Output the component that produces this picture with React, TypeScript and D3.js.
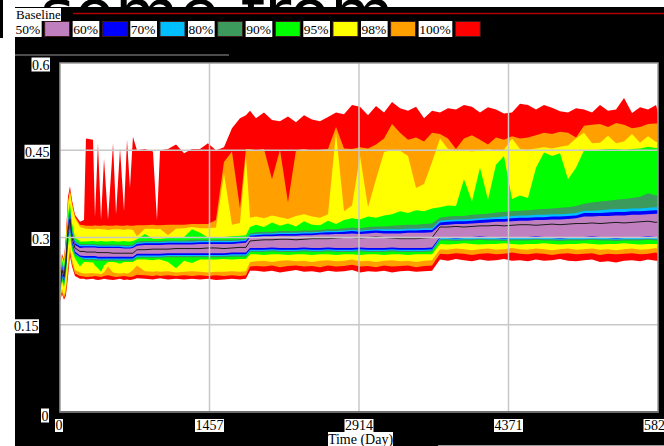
import React from 'react';
import * as d3 from 'd3';

// ---- data (time in days, values are fractions) ----
const days = [0,19,39,58,78,97,117,146,195,
234,253,322,341,370,400,429,468,517,546,585,624,653,682,711,750,828,906,945,975,1053,1131,1209,1286,1364,1442,1520,1598,1676,1754,1812,1852,
1910,1988,2066,2144,2222,2300,2378,2456,2534,2612,2690,2768,2846,2924,3002,3080,3158,3236,3314,3392,3470,3548,3626,
3703,3781,3859,3937,4015,4093,4171,4249,4327,4405,4483,4561,4639,4717,4795,4873,4951,5029,5107,5185,5263,5341,5419,5497,5575,5653,5731,5809,5828];

const baseline = [0.213,0.244,0.232,0.258,0.312,0.332,0.300,0.282,0.276,
0.276,0.275,0.275,0.275,0.274,0.274,0.274,0.274,0.273,0.273,0.273,0.273,0.273,0.273,0.273,0.279,0.279,0.280,0.280,0.280,0.280,0.281,0.281,0.281,0.281,0.282,0.282,0.281,0.282,0.283,0.283,0.294,
0.295,0.296,0.296,0.297,0.297,0.296,0.297,0.298,0.298,0.298,0.299,0.300,0.300,0.299,0.300,0.301,0.300,0.299,0.298,0.298,0.298,0.299,0.300,
0.318,0.318,0.319,0.318,0.319,0.320,0.320,0.321,0.320,0.321,0.322,0.322,0.321,0.322,0.323,0.322,0.323,0.324,0.324,0.325,0.324,0.325,0.326,0.325,0.326,0.327,0.328,0.326,0.327];

const p50Hi = [0.216,0.248,0.236,0.263,0.318,0.338,0.305,0.287,0.282,
0.283,0.283,0.283,0.283,0.282,0.282,0.282,0.282,0.282,0.282,0.282,0.281,0.281,0.281,0.282,0.286,0.287,0.287,0.287,0.287,0.288,0.288,0.288,0.288,0.289,0.289,0.289,0.289,0.289,0.290,0.291,0.300,
0.301,0.302,0.302,0.303,0.303,0.303,0.304,0.304,0.305,0.305,0.306,0.306,0.307,0.306,0.307,0.308,0.307,0.307,0.307,0.308,0.308,0.308,0.309,
0.321,0.322,0.323,0.323,0.324,0.325,0.326,0.327,0.327,0.328,0.329,0.329,0.330,0.330,0.331,0.331,0.332,0.333,0.336,0.336,0.337,0.337,0.338,0.338,0.339,0.339,0.340,0.341,0.341];

const p60Hi = [0.218,0.251,0.239,0.266,0.322,0.342,0.308,0.290,0.285,
0.285,0.285,0.285,0.285,0.284,0.284,0.284,0.284,0.284,0.284,0.284,0.283,0.283,0.283,0.284,0.289,0.290,0.290,0.290,0.290,0.291,0.291,0.291,0.291,0.292,0.292,0.292,0.292,0.292,0.293,0.294,0.303,
0.304,0.305,0.305,0.306,0.306,0.306,0.307,0.307,0.308,0.309,0.309,0.310,0.311,0.310,0.311,0.312,0.311,0.311,0.311,0.312,0.312,0.313,0.313,
0.326,0.327,0.328,0.328,0.329,0.330,0.331,0.332,0.332,0.333,0.334,0.334,0.335,0.335,0.336,0.336,0.337,0.338,0.342,0.342,0.342,0.343,0.344,0.344,0.345,0.345,0.346,0.347,0.347];

const p70Hi = [0.220,0.253,0.241,0.269,0.326,0.346,0.311,0.292,0.287,
0.287,0.287,0.287,0.287,0.286,0.286,0.286,0.286,0.286,0.286,0.286,0.285,0.285,0.285,0.286,0.291,0.292,0.292,0.292,0.292,0.293,0.293,0.293,0.293,0.294,0.294,0.294,0.294,0.294,0.295,0.296,0.305,
0.306,0.307,0.307,0.308,0.308,0.308,0.309,0.309,0.310,0.311,0.311,0.312,0.313,0.312,0.313,0.314,0.314,0.314,0.314,0.315,0.315,0.316,0.316,
0.329,0.330,0.331,0.331,0.332,0.333,0.334,0.335,0.336,0.337,0.338,0.338,0.339,0.339,0.340,0.340,0.341,0.342,0.346,0.346,0.347,0.348,0.349,0.349,0.350,0.350,0.351,0.352,0.352];

const p80Hi = [0.222,0.256,0.244,0.272,0.330,0.350,0.314,0.294,0.289,
0.289,0.289,0.289,0.289,0.288,0.288,0.288,0.288,0.288,0.288,0.288,0.287,0.287,0.287,0.288,0.293,0.294,0.294,0.294,0.294,0.295,0.295,0.295,0.296,0.296,0.296,0.296,0.296,0.296,0.297,0.298,0.307,
0.309,0.310,0.310,0.311,0.311,0.311,0.312,0.312,0.313,0.314,0.314,0.316,0.317,0.316,0.318,0.319,0.319,0.320,0.321,0.322,0.322,0.323,0.324,
0.334,0.336,0.337,0.337,0.339,0.340,0.341,0.343,0.344,0.345,0.346,0.347,0.348,0.349,0.350,0.351,0.352,0.354,0.358,0.360,0.362,0.363,0.365,0.366,0.368,0.370,0.376,0.372,0.373];

const p90Hi = [0.226,0.262,0.250,0.282,0.340,0.360,0.325,0.300,0.293,
0.293,0.293,0.294,0.293,0.293,0.294,0.293,0.293,0.294,0.293,0.293,0.294,0.293,0.293,0.294,0.297,0.306,0.298,0.298,0.298,0.299,0.299,0.301,0.314,0.308,0.300,0.301,0.301,0.302,0.303,0.304,0.318,
0.322,0.318,0.326,0.320,0.324,0.319,0.328,0.322,0.321,0.329,0.323,0.330,0.333,0.331,0.336,0.334,0.338,0.340,0.345,0.342,0.347,0.345,0.350,
0.352,0.355,0.354,0.400,0.362,0.420,0.365,0.425,0.440,0.366,0.372,0.368,0.420,0.446,0.440,0.445,0.400,0.420,0.450,0.450,0.451,0.452,0.452,0.451,0.452,0.453,0.456,0.454,0.454];

const p95Hi = [0.230,0.266,0.256,0.292,0.355,0.378,0.355,0.333,0.318,
0.316,0.315,0.314,0.314,0.315,0.314,0.314,0.313,0.314,0.314,0.314,0.313,0.314,0.314,0.313,0.302,0.315,0.315,0.314,0.315,0.304,0.315,0.316,0.318,0.316,0.316,0.317,0.410,0.322,0.325,0.440,0.334,
0.336,0.333,0.338,0.335,0.332,0.337,0.340,0.336,0.334,0.340,0.480,0.345,0.355,0.440,0.352,0.400,0.447,0.450,0.449,0.440,0.385,0.392,0.430,
0.470,0.452,0.450,0.450,0.448,0.450,0.452,0.449,0.451,0.470,0.452,0.451,0.453,0.455,0.453,0.456,0.458,0.470,0.480,0.462,0.463,0.475,0.462,0.465,0.478,0.463,0.474,0.464,0.464];

const p98Hi = [0.234,0.269,0.259,0.298,0.362,0.382,0.360,0.336,0.322,
0.321,0.320,0.320,0.321,0.320,0.320,0.321,0.320,0.320,0.321,0.320,0.320,0.321,0.320,0.320,0.321,0.321,0.322,0.321,0.321,0.322,0.322,0.322,0.323,0.323,0.323,0.330,0.430,0.448,0.350,0.452,0.452,
0.450,0.452,0.400,0.451,0.360,0.450,0.452,0.449,0.451,0.452,0.490,0.453,0.452,0.455,0.453,0.460,0.470,0.495,0.480,0.468,0.472,0.465,0.480,
0.478,0.470,0.452,0.470,0.476,0.468,0.460,0.472,0.468,0.474,0.470,0.472,0.476,0.480,0.478,0.482,0.480,0.472,0.492,0.494,0.495,0.490,0.497,0.494,0.488,0.490,0.495,0.496,0.496];

const p100Hi = [0.240,0.272,0.262,0.305,0.370,0.388,0.364,0.339,0.327,
0.330,0.470,0.468,0.335,0.462,0.330,0.436,0.330,0.462,0.340,0.453,0.345,0.468,0.385,0.473,0.450,0.452,0.448,0.330,0.450,0.452,0.460,0.445,0.452,0.452,0.462,0.450,0.455,0.488,0.505,0.510,0.518,
0.505,0.515,0.502,0.500,0.508,0.498,0.510,0.503,0.500,0.507,0.515,0.512,0.528,0.525,0.510,0.526,0.515,0.533,0.522,0.518,0.525,0.505,0.518,
0.515,0.522,0.520,0.528,0.525,0.515,0.524,0.520,0.513,0.515,0.530,0.528,0.520,0.528,0.523,0.517,0.515,0.522,0.520,0.515,0.528,0.518,0.520,0.540,0.514,0.524,0.520,0.528,0.515];

const p50Lo = [0.210,0.238,0.228,0.252,0.305,0.325,0.294,0.276,0.269,
0.268,0.268,0.268,0.268,0.267,0.267,0.267,0.267,0.267,0.267,0.267,0.267,0.267,0.267,0.267,0.272,0.272,0.272,0.272,0.272,0.273,0.273,0.273,0.273,0.273,0.273,0.273,0.273,0.274,0.274,0.274,0.282,
0.282,0.282,0.283,0.282,0.282,0.282,0.283,0.282,0.282,0.283,0.282,0.282,0.282,0.283,0.282,0.282,0.282,0.283,0.282,0.282,0.282,0.282,0.283,
0.301,0.301,0.300,0.301,0.301,0.302,0.301,0.301,0.300,0.301,0.301,0.301,0.302,0.301,0.301,0.300,0.301,0.301,0.301,0.302,0.301,0.301,0.300,0.301,0.301,0.301,0.302,0.301,0.301];

const p60Lo = [0.208,0.235,0.225,0.248,0.300,0.320,0.290,0.273,0.267,
0.265,0.265,0.265,0.265,0.264,0.264,0.264,0.264,0.264,0.264,0.264,0.264,0.264,0.264,0.264,0.269,0.269,0.269,0.269,0.269,0.270,0.270,0.270,0.270,0.270,0.270,0.270,0.270,0.271,0.271,0.271,0.279,
0.279,0.279,0.280,0.279,0.279,0.279,0.280,0.279,0.279,0.280,0.279,0.279,0.279,0.280,0.279,0.279,0.279,0.280,0.279,0.279,0.279,0.279,0.280,
0.299,0.299,0.298,0.299,0.299,0.300,0.299,0.299,0.298,0.299,0.299,0.299,0.300,0.299,0.299,0.298,0.299,0.299,0.299,0.300,0.299,0.299,0.298,0.299,0.299,0.299,0.300,0.299,0.299];

const p70Lo = [0.206,0.233,0.222,0.245,0.297,0.317,0.288,0.271,0.266,
0.263,0.263,0.263,0.263,0.262,0.262,0.262,0.262,0.262,0.262,0.262,0.262,0.262,0.262,0.262,0.267,0.267,0.267,0.267,0.267,0.268,0.268,0.268,0.268,0.268,0.268,0.268,0.268,0.269,0.269,0.269,0.277,
0.277,0.277,0.278,0.277,0.277,0.277,0.278,0.277,0.277,0.278,0.277,0.277,0.277,0.278,0.277,0.277,0.277,0.278,0.277,0.277,0.277,0.277,0.278,
0.297,0.297,0.296,0.297,0.297,0.298,0.297,0.297,0.296,0.297,0.297,0.297,0.298,0.297,0.297,0.296,0.297,0.297,0.297,0.298,0.297,0.297,0.296,0.297,0.297,0.297,0.298,0.297,0.297];

const p80Lo = [0.204,0.230,0.219,0.241,0.293,0.313,0.285,0.269,0.265,
0.261,0.261,0.261,0.261,0.260,0.260,0.260,0.260,0.260,0.260,0.260,0.260,0.260,0.260,0.260,0.265,0.265,0.265,0.265,0.265,0.266,0.266,0.266,0.266,0.266,0.266,0.266,0.266,0.267,0.267,0.267,0.275,
0.275,0.275,0.276,0.275,0.275,0.275,0.276,0.275,0.275,0.276,0.275,0.275,0.275,0.276,0.275,0.275,0.275,0.276,0.275,0.275,0.275,0.275,0.276,
0.295,0.295,0.294,0.295,0.295,0.296,0.295,0.295,0.294,0.295,0.295,0.295,0.296,0.295,0.295,0.294,0.295,0.295,0.295,0.296,0.295,0.295,0.294,0.295,0.295,0.295,0.296,0.295,0.295];

const p90Lo = [0.201,0.226,0.214,0.235,0.285,0.305,0.278,0.264,0.250,
0.258,0.258,0.257,0.252,0.247,0.241,0.252,0.258,0.258,0.257,0.255,0.258,0.258,0.258,0.258,0.262,0.262,0.261,0.262,0.262,0.258,0.247,0.260,0.256,0.262,0.262,0.262,0.263,0.262,0.263,0.263,0.271,
0.271,0.270,0.271,0.271,0.270,0.271,0.271,0.270,0.271,0.271,0.270,0.271,0.271,0.270,0.271,0.271,0.270,0.271,0.271,0.270,0.271,0.271,0.271,
0.289,0.288,0.289,0.290,0.289,0.288,0.289,0.289,0.290,0.289,0.288,0.289,0.289,0.290,0.289,0.288,0.289,0.289,0.290,0.289,0.288,0.289,0.289,0.290,0.289,0.288,0.289,0.289,0.289];

const p95Lo = [0.196,0.212,0.200,0.215,0.255,0.285,0.262,0.244,0.240,
0.238,0.238,0.239,0.238,0.238,0.237,0.240,0.250,0.240,0.239,0.238,0.239,0.238,0.240,0.244,0.252,0.242,0.241,0.242,0.241,0.242,0.240,0.241,0.242,0.241,0.240,0.241,0.241,0.242,0.241,0.242,0.258,
0.259,0.260,0.258,0.260,0.261,0.259,0.260,0.258,0.260,0.261,0.259,0.260,0.262,0.259,0.260,0.258,0.260,0.261,0.259,0.260,0.258,0.260,0.261,
0.280,0.279,0.281,0.280,0.278,0.280,0.281,0.279,0.280,0.282,0.280,0.279,0.281,0.280,0.278,0.280,0.281,0.279,0.280,0.281,0.279,0.280,0.278,0.280,0.281,0.279,0.280,0.282,0.280];

const p98Lo = [0.192,0.206,0.196,0.205,0.240,0.275,0.255,0.238,0.234,
0.233,0.232,0.233,0.234,0.233,0.232,0.234,0.235,0.233,0.232,0.233,0.234,0.233,0.232,0.233,0.236,0.235,0.234,0.235,0.234,0.235,0.234,0.235,0.234,0.235,0.234,0.235,0.234,0.235,0.234,0.235,0.250,
0.251,0.250,0.252,0.249,0.251,0.252,0.250,0.251,0.249,0.252,0.250,0.251,0.253,0.250,0.251,0.249,0.252,0.250,0.251,0.252,0.249,0.251,0.252,
0.272,0.271,0.273,0.272,0.270,0.272,0.273,0.271,0.272,0.274,0.272,0.271,0.273,0.272,0.270,0.272,0.273,0.271,0.272,0.273,0.270,0.272,0.271,0.272,0.273,0.271,0.272,0.274,0.272];

const p100Lo = [0.190,0.203,0.193,0.200,0.232,0.268,0.250,0.234,0.229,
0.229,0.228,0.229,0.228,0.227,0.228,0.229,0.228,0.227,0.228,0.229,0.227,0.228,0.227,0.228,0.230,0.229,0.228,0.229,0.230,0.228,0.229,0.228,0.229,0.228,0.229,0.227,0.228,0.229,0.228,0.229,0.243,
0.243,0.241,0.243,0.240,0.242,0.244,0.241,0.242,0.240,0.243,0.241,0.242,0.244,0.240,0.242,0.241,0.243,0.240,0.242,0.243,0.241,0.242,0.243,
0.262,0.260,0.263,0.261,0.259,0.262,0.260,0.261,0.263,0.260,0.261,0.259,0.262,0.260,0.261,0.263,0.260,0.259,0.261,0.262,0.258,0.259,0.257,0.260,0.261,0.259,0.262,0.260,0.260];

const bandLabels = ['50%', '60%', '70%', '80%', '90%', '95%', '98%', '100%'];
const bandColors = ['#c080c0', '#0000ff', '#00bfff', '#3c9a5c', '#00ff00', '#ffff00', '#ffa000', '#ff0000'];
const bandLows = [p50Lo, p60Lo, p70Lo, p80Lo, p90Lo, p95Lo, p98Lo, p100Lo];
const bandHighs = [p50Hi, p60Hi, p70Hi, p80Hi, p90Hi, p95Hi, p98Hi, p100Hi];
const xTicks = [0, 1457, 2914, 4371, 5828];
const yTicks = [0, 0.15, 0.3, 0.45, 0.6];
const xTickLabels = ['0', '1457', '2914', '4371', '5828'];
const yTickLabels = ['0', '0.15', '0.3', '0.45', '0.6'];
const xTitle = 'Time (Day)';
const seriesName = 'Baseline';

// Times-like glyph advance widths (em)
const CW: Record<string, number> = {
  '0': 0.5, '1': 0.5, '2': 0.5, '3': 0.5, '4': 0.5, '5': 0.5, '6': 0.5, '7': 0.5, '8': 0.5, '9': 0.5,
  '.': 0.25, '%': 0.833,
};
const tw = (s: string, fs: number) => s.split('').reduce((a, c) => a + (CW[c] ?? 0.5), 0) * fs;

const SERIF = "'Liberation Serif', 'Times New Roman', serif";

export default function App() {
  const W = 664, H = 446;
  const L = 60, R = 658, T = 63, B = 412;
  const x = d3.scaleLinear().domain([0, 5828]).range([L, R]);
  const y = d3.scaleLinear().domain([0, 0.6]).range([B, T]);
  const fs = 14;
  const lfs = 13.5;

  const area = (lo: number[], hi: number[]) =>
    d3.area<number>()
      .x((_, i) => x(days[i]))
      .y0((_, i) => y(lo[i]))
      .y1((_, i) => y(hi[i]))
      .curve(d3.curveLinear)(days as any) || '';

  const line = d3.line<number>().x((_, i) => x(days[i])).y((v) => y(v)).curve(d3.curveLinear)(baseline) || '';

  // legend layout
  const legendItems: { lx: number; lw: number; sx: number; label: string; color: string }[] = [];
  let cx = 15;
  bandLabels.forEach((lab, i) => {
    const lw = tw(lab, 14) + 1;
    const sx = cx + lw + 3;
    legendItems.push({ lx: cx, lw, sx, label: lab, color: bandColors[i] });
    cx = sx + 25 + 3;
  });

  const order = d3.range(bandLabels.length).reverse();

  return (
    <svg width={W} height={H} style={{ position: 'absolute', left: 0, top: 0, background: '#fff' }}
      xmlns="http://www.w3.org/2000/svg">
      <defs>
        <clipPath id="plotclip"><rect x={L} y={T} width={R - L + 2} height={B - T} /></clipPath>
      </defs>
      {/* stray background text behind the panel */}
      <text x={40} y={36} fontFamily="'DejaVu Sans', sans-serif" fontSize={66} fill="#000">some from</text>
      <rect x={0} y={0} width={3} height={38} fill="#000" />
      {/* black panel */}
      <rect x={15} y={7} width={W - 15} height={H - 7} fill="#000" />

      {/* title row */}
      <rect x={15} y={8} width={46} height={13} fill="#fff" />
      <text x={16} y={19} fontFamily={SERIF} fontSize={13} fill="#000">{seriesName}</text>
      <line x1={73} x2={W} y1={13.5} y2={13.5} stroke="#b00000" strokeWidth={1.5} />

      {/* legend row */}
      {legendItems.map((it) => (
        <g key={it.label}>
          <rect x={it.lx} y={21} width={it.lw} height={16} fill="#fff" />
          <text x={it.lx + 0.5} y={33.5} fontFamily={SERIF} fontSize={lfs} fill="#000">{it.label}</text>
          <rect x={it.sx} y={21.5} width={25} height={15} fill={it.color} stroke="#3a1a1a" strokeWidth={1} />
        </g>
      ))}
      <line x1={15} x2={229} y1={55} y2={55} stroke="#9a9a9a" strokeWidth={1} />
      <line x1={438} x2={W} y1={445.5} y2={445.5} stroke="#9a9a9a" strokeWidth={1} />

      {/* plot area */}
      <rect x={L} y={T} width={R - L} height={B - T} fill="#fff" />
      <g clipPath="url(#plotclip)">
        {order.map((i) => (
          <path key={bandLabels[i]} d={area(bandLows[i], bandHighs[i])} fill={bandColors[i]} stroke="none" />
        ))}
        <path d={line} fill="none" stroke="#1a1a1a" strokeWidth={1} />
      </g>
      {/* grid on top */}
      {yTicks.filter((v) => v > 0 && v < 0.6).map((v) => (
        <line key={'gy' + v} x1={L} x2={R} y1={y(v)} y2={y(v)} stroke="#c8c8c8" strokeWidth={1.5} />
      ))}
      {xTicks.filter((v) => v > 0 && v < 5828).map((v) => (
        <line key={'gx' + v} x1={x(v)} x2={x(v)} y1={T} y2={B} stroke="#c8c8c8" strokeWidth={1.5} />
      ))}
      <rect x={L} y={T} width={R - L} height={B - T} fill="none" stroke="#9a9a9a" strokeWidth={1.5} />
      <line x1={L} x2={R} y1={B} y2={B} stroke="#6e6e6e" strokeWidth={2} />

      {/* y labels */}
      {yTicks.map((v, i) => {
        const lab = yTickLabels[i];
        const right = lab === '0.15' ? 39 : lab === '0' ? 49 : 50;
        const cy = y(v) + (lab === '0' ? 3.5 : 1.5);
        const w = tw(lab, fs) + 1;
        return (
          <g key={'yl' + lab}>
            <rect x={right - w} y={cy - 7} width={w} height={14} fill="#fff" />
            <text x={right - 0.5} y={cy + 5} textAnchor="end" fontFamily={SERIF} fontSize={fs} fill="#000">{lab}</text>
          </g>
        );
      })}
      {/* x labels */}
      {xTicks.map((v, i) => {
        const lab = xTickLabels[i];
        const w = tw(lab, fs) + 1;
        const c = x(v) - (i === 0 ? 1 : 0);
        return (
          <g key={'xl' + lab}>
            <rect x={c - w / 2} y={419} width={w} height={13} fill="#fff" />
            <text x={c} y={430} textAnchor="middle" fontFamily={SERIF} fontSize={fs} fill="#000">{lab}</text>
          </g>
        );
      })}
      <rect x={328} y={432} width={65} height={14} fill="#fff" />
      <text x={360.5} y={443.5} textAnchor="middle" fontFamily={SERIF} fontSize={fs} fill="#000">{xTitle}</text>
    </svg>
  );
}
